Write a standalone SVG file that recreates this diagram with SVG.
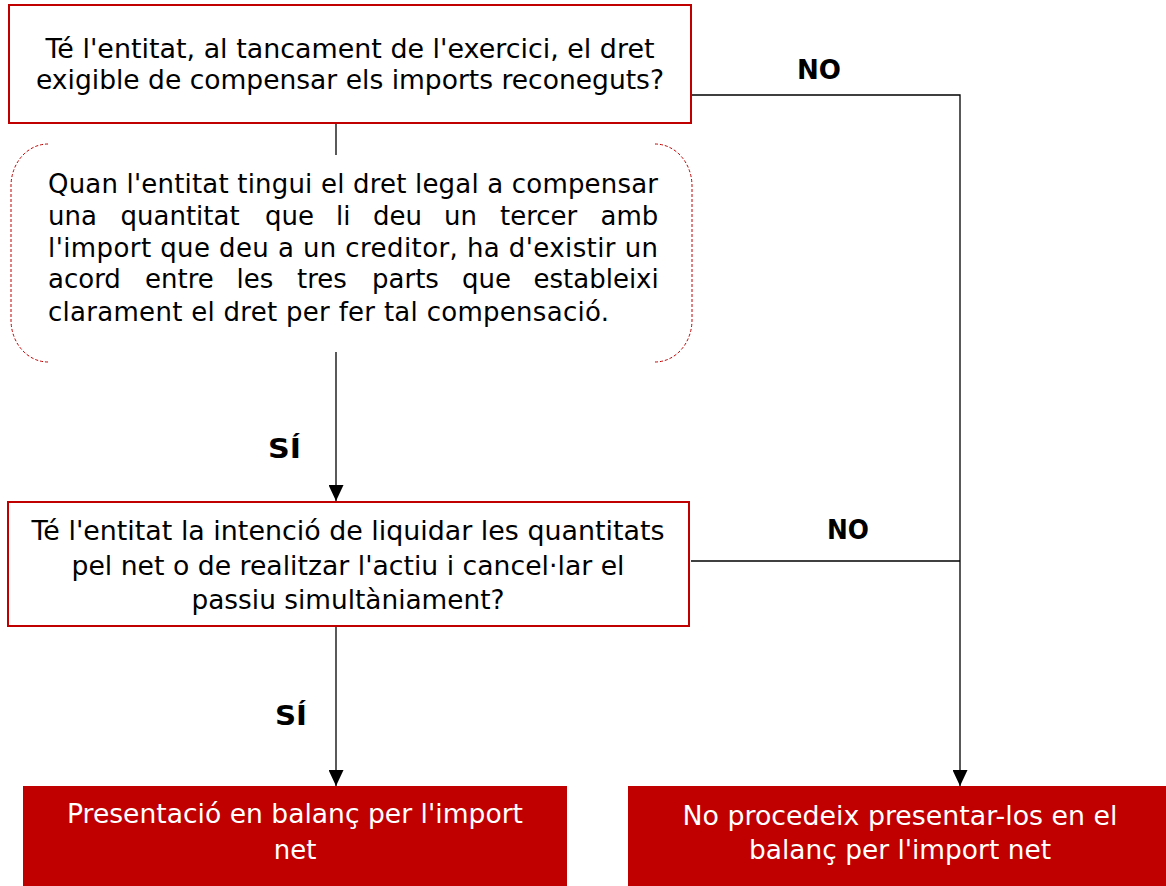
<svg xmlns="http://www.w3.org/2000/svg" width="1166" height="886" viewBox="0 0 1166 886">
<style>
text{font-family:"DejaVu Sans","Verdana",sans-serif;font-size:26px;fill:#000}
.c{text-anchor:middle}
.w{fill:#fff}
.b{font-weight:bold}
.q{fill:#fff;stroke:#c00000;stroke-width:2}
.r{fill:#c00000;stroke:none}
.n{fill:none;stroke:#c00000;stroke-width:1;stroke-dasharray:3 2}
.k{fill:none;stroke:#000;stroke-width:1.3}
</style>
<defs>
<marker id="ah" markerUnits="userSpaceOnUse" markerWidth="16" markerHeight="15" refX="16" refY="7.5" orient="auto">
<path d="M0,0 L16,7.5 L0,15 Z" fill="#000"/>
</marker>
</defs>
<rect width="1166" height="886" fill="#fff"/>
<g id="connectors">
<path class="k" d="M336,123 V155"/>
<path class="k" d="M336,352 V501" marker-end="url(#ah)"/>
<path class="k" d="M336,626 V786" marker-end="url(#ah)"/>
<path class="k" d="M691,95 H960 V786" marker-end="url(#ah)"/>
<path class="k" d="M691,561 H960"/>
<text class="b" x="797" y="79" textLength="44" lengthAdjust="spacingAndGlyphs">NO</text>
<text class="b" x="268" y="458" textLength="33" lengthAdjust="spacingAndGlyphs">SÍ</text>
<text class="b" x="827" y="539" textLength="42" lengthAdjust="spacingAndGlyphs">NO</text>
<text class="b" x="275" y="725" textLength="32" lengthAdjust="spacingAndGlyphs">SÍ</text>
</g>
<g id="q1">
<rect class="q" x="9" y="5" width="682" height="118"/>
<text class="c" x="350" y="58" textLength="609" lengthAdjust="spacingAndGlyphs">Té l'entitat, al tancament de l'exercici, el dret</text>
<text class="c" x="350" y="89" textLength="628" lengthAdjust="spacingAndGlyphs">exigible de compensar els imports reconeguts?</text>
</g>
<g id="note">
<path class="n" d="M48,144 A37,42 0 0 0 11,186 L11,320 A37,42 0 0 0 48,362"/>
<path class="n" d="M655,144 A37,42 0 0 1 692,186 L692,320 A37,42 0 0 1 655,362"/>
<text x="48" y="193" textLength="610" lengthAdjust="spacing">Quan l'entitat tingui el dret legal a compensar</text>
<text y="225"><tspan x="48">una</tspan><tspan x="120.5">quantitat</tspan><tspan x="265">que</tspan><tspan x="336">li</tspan><tspan x="373">deu</tspan><tspan x="444">un</tspan><tspan x="500">tercer</tspan><tspan x="600.5">amb</tspan></text>
<text x="48" y="257" textLength="610" lengthAdjust="spacing">l'import que deu a un creditor, ha d'existir un</text>
<text y="288"><tspan x="48">acord</tspan><tspan x="145">entre</tspan><tspan x="236.6">les</tspan><tspan x="297">tres</tspan><tspan x="372">parts</tspan><tspan x="462">que</tspan><tspan x="533.5">estableixi</tspan></text>
<text x="48" y="321" textLength="561" lengthAdjust="spacing">clarament el dret per fer tal compensació.</text>
</g>
<g id="q2">
<rect class="q" x="8" y="502" width="681" height="124"/>
<text class="c" x="348" y="540" textLength="633" lengthAdjust="spacingAndGlyphs">Té l'entitat la intenció de liquidar les quantitats</text>
<text class="c" x="348" y="575" textLength="553" lengthAdjust="spacingAndGlyphs">pel net o de realitzar l'actiu i cancel·lar el</text>
<text class="c" x="348" y="609" textLength="313" lengthAdjust="spacingAndGlyphs">passiu simultàniament?</text>
</g>
<g id="yes">
<rect class="r" x="23" y="786" width="544" height="100"/>
<text class="c w" x="295" y="823" textLength="456" lengthAdjust="spacingAndGlyphs">Presentació en balanç per l'import</text>
<text class="c w" x="295" y="859">net</text>
</g>
<g id="no">
<rect class="r" x="628" y="786" width="544" height="100"/>
<text class="c w" x="900" y="825" textLength="435" lengthAdjust="spacingAndGlyphs">No procedeix presentar-los en el</text>
<text class="c w" x="900" y="859" textLength="302" lengthAdjust="spacingAndGlyphs">balanç per l'import net</text>
</g>
</svg>
